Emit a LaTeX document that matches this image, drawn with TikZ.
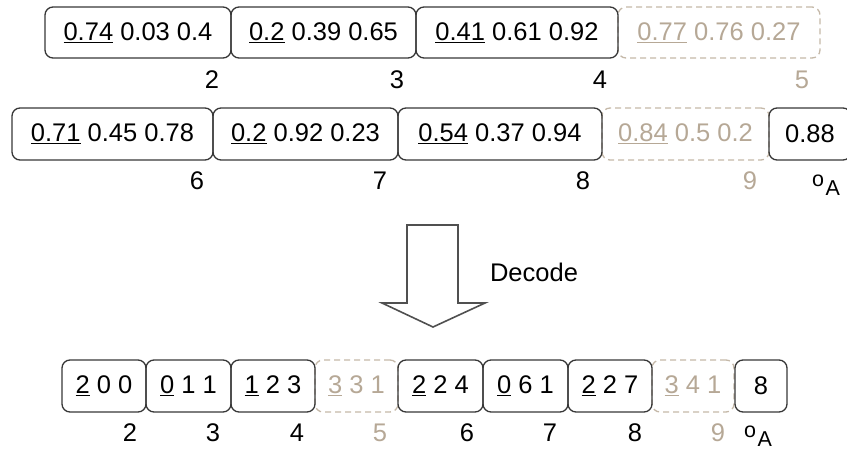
\documentclass[tikz,border=0pt]{standalone}
\usepackage{fontspec}
\setmainfont{Liberation Sans}
\definecolor{boxc}{RGB}{55,55,55}
\definecolor{ghostc}{RGB}{182,168,150}
\definecolor{ghostline}{RGB}{196,184,168}
\definecolor{arrowc}{RGB}{80,80,80}
\tikzset{
  cell/.style={draw=boxc, line width=1.3pt, rounded corners=8pt, inner sep=0pt, text=black},
  ghost/.style={cell, draw=ghostline, text=ghostc, dash pattern=on 6pt off 4pt},
  lab/.style={inner sep=0pt, text=black},
  glab/.style={lab, text=ghostc},
  oalab/.style={inner sep=0pt, anchor=base west, font=\fontsize{21.5}{22}\selectfont},
}
\newcommand{\oA}{\raisebox{4pt}{o}\kern1.5pt\raisebox{-5pt}{A}}
\newcommand{\ul}[1]{\underline{#1}}
\begin{document}
\begin{tikzpicture}[x=1pt,y=-1pt,font=\fontsize{25.5}{30}\selectfont]
\useasboundingbox (0,0) rectangle (847,450);
\clip (0,0) rectangle (847,450);
% ---------- Row 1 ----------
\node[ghost, minimum width=202pt, minimum height=51pt] (r1d) at (719,32.5) {\ul{0.77} 0.76 0.27};
\node[cell, minimum width=186pt, minimum height=51pt] (r1a) at (138,32.5) {\ul{0.74} 0.03 0.4};
\node[cell, minimum width=185pt, minimum height=51pt] (r1b) at (323.5,32.5) {\ul{0.2} 0.39 0.65};
\node[cell, minimum width=202pt, minimum height=51pt] (r1c) at (517,32.5) {\ul{0.41} 0.61 0.92};
\node[lab] (l1a) at (212,80) {2};
\node[lab] (l1b) at (397,80) {3};
\node[lab] (l1c) at (600,80) {4};
\node[glab] (l1d) at (802,80) {5};
% ---------- Row 2 ----------
\node[ghost, minimum width=167pt, minimum height=52pt] (r2d) at (685.5,134) {\ul{0.84} 0.5 0.2};
\node[cell, minimum width=201pt, minimum height=52pt] (r2a) at (112.5,134) {\ul{0.71} 0.45 0.78};
\node[cell, minimum width=185pt, minimum height=52pt] (r2b) at (305.5,134) {\ul{0.2} 0.92 0.23};
\node[cell, minimum width=204pt, minimum height=52pt] (r2c) at (500,134) {\ul{0.54} 0.37 0.94};
\node[cell, minimum width=82pt, minimum height=52pt] (r2e) at (810,134) {0.88};
\node[lab] (l2a) at (197,181) {6};
\node[lab] (l2b) at (380,181) {7};
\node[lab] (l2c) at (583,181) {8};
\node[glab] (l2d) at (750,181) {9};
\node[oalab] (l2e) at (812,190) {\oA};
% ---------- Decode arrow ----------
\draw[draw=arrowc, line width=1.6pt, line join=miter]
  (407,225) -- (458,225) -- (458,303) -- (485,303) -- (433,327) -- (382,303) -- (407,303) -- cycle;
\node[lab] (dec) at (534,272) {Decode};
% ---------- Row 3 ----------
\node[ghost, minimum width=83pt, minimum height=52pt] (b4) at (356.5,386) {\ul{3} 3 1};
\node[ghost, minimum width=82pt, minimum height=52pt] (b8) at (693,386) {\ul{3} 4 1};
\node[cell, minimum width=84pt, minimum height=52pt] (b1) at (104,386) {\ul{2} 0 0};
\node[cell, minimum width=85pt, minimum height=52pt] (b2) at (188.5,386) {\ul{0} 1 1};
\node[cell, minimum width=84pt, minimum height=52pt] (b3) at (273,386) {\ul{1} 2 3};
\node[cell, minimum width=85pt, minimum height=52pt] (b5) at (440.5,386) {\ul{2} 2 4};
\node[cell, minimum width=85pt, minimum height=52pt] (b6) at (525.5,386) {\ul{0} 6 1};
\node[cell, minimum width=84pt, minimum height=52pt] (b7) at (610,386) {\ul{2} 2 7};
\node[cell, minimum width=52pt, minimum height=52pt] (b9) at (761,386) {8};
\node[lab] (m1) at (130,433) {2};
\node[lab] (m2) at (213,433) {3};
\node[lab] (m3) at (297,433) {4};
\node[glab] (m4) at (380,433) {5};
\node[lab] (m5) at (467,433) {6};
\node[lab] (m6) at (550,433) {7};
\node[lab] (m7) at (635,433) {8};
\node[glab] (m8) at (718,433) {9};
\node[oalab] (m9) at (744,441) {\oA};
\end{tikzpicture}
\end{document}
